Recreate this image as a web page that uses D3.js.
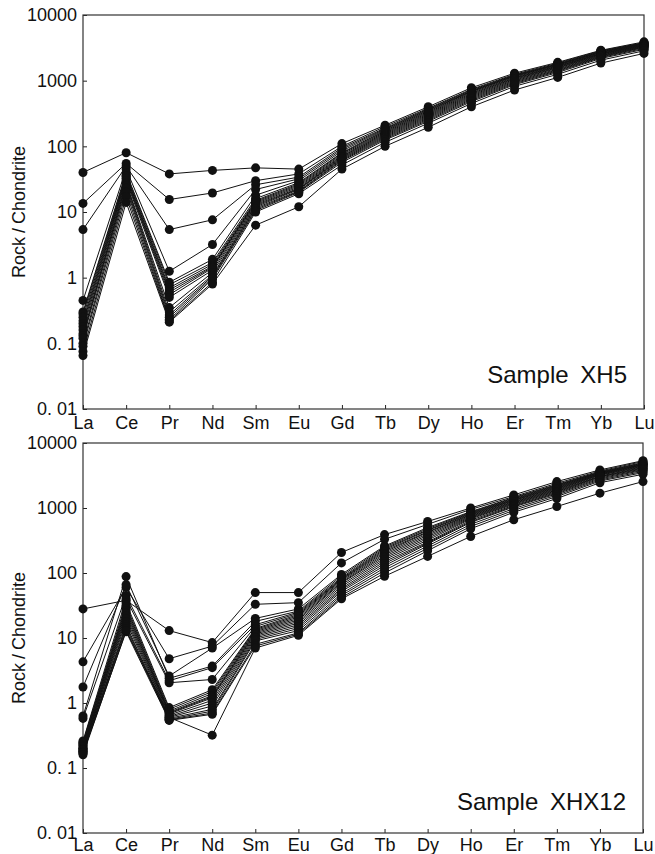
<!DOCTYPE html>
<html>
<head>
<meta charset="utf-8">
<script src="https://cdn.jsdelivr.net/npm/d3@7/dist/d3.min.js"></script>
<style>
  html, body { margin: 0; padding: 0; background: #fff; }
  svg { display: block; }
  text { font-family: "Liberation Sans", Arial, Helvetica, sans-serif; fill: #111; }
</style>
</head>
<body>
<svg id="chart" width="655" height="854"></svg>
<script>
// Rare earth elements on the x axis
const elements = ["La","Ce","Pr","Nd","Sm","Eu","Gd","Tb","Dy","Ho","Er","Tm","Yb","Lu"];

// Log-axis ticks and their printed labels
const tickValues = [0.01, 0.1, 1, 10, 100, 1000, 10000];
const tickLabels = ["0. 01", "0. 1", "1", "10", "100", "1000", "10000"];

// Chondrite-normalised REE patterns, sample XH5 (one row per analysis spot)
const xh5 = [
  [40,    80, 38,   43,   47,   45,  110, 210, 400, 780, 1300, 1900, 2900, 3900],
  [13.5,  55, 15.5, 19.5, 30,   38,  100, 200, 380, 740, 1250, 1850, 2850, 3800],
  [5.4,   50, 5.4,  7.6,  26,   34,   95, 190, 370, 720, 1220, 1800, 2800, 3750],
  [0.45,  45, 1.25, 3.2,  22,   32,   90, 185, 360, 700, 1200, 1780, 2750, 3700],
  [0.30,  40, 0.85, 1.9,  18,   30,   85, 180, 350, 690, 1180, 1750, 2700, 3650],
  [0.28,  38, 0.78, 1.7,  16,   28,   80, 175, 340, 680, 1160, 1720, 2680, 3600],
  [0.25,  36, 0.70, 1.6,  15,   27,   78, 170, 330, 660, 1130, 1680, 2620, 3550],
  [0.22,  35, 0.65, 1.5,  14.5, 26,   75, 165, 320, 640, 1100, 1650, 2580, 3500],
  [0.20,  33, 0.60, 1.45, 14,   25,   72, 160, 310, 620, 1080, 1620, 2550, 3450],
  [0.18,  32, 0.55, 1.4,  13.5, 24,   70, 155, 300, 600, 1050, 1580, 2500, 3400],
  [0.16,  30, 0.50, 1.3,  13,   23,   68, 150, 290, 580, 1020, 1550, 2450, 3350],
  [0.14,  28, 0.35, 1.2,  12.5, 22.5, 66, 145, 280, 560,  990, 1500, 2400, 3300],
  [0.13,  27, 0.30, 1.1,  12,   22,   64, 140, 270, 540,  960, 1460, 2350, 3250],
  [0.12,  25, 0.27, 1.05, 11.5, 21,   62, 135, 260, 520,  930, 1420, 2300, 3200],
  [0.10,  23, 0.25, 1.0,  11,   20.5, 60, 130, 250, 500,  900, 1380, 2250, 3100],
  [0.09,  20, 0.23, 0.95, 10.5, 20,   57, 125, 240, 480,  870, 1330, 2180, 3000],
  [0.075, 17, 0.22, 0.85, 10,   19,   52, 115, 225, 450,  820, 1250, 2050, 2850],
  [0.065, 14, 0.21, 0.80, 6.3,  12,   45, 100, 195, 400,  720, 1120, 1850, 2600]
];

// Chondrite-normalised REE patterns, sample XHX12
const xhx12 = [
  [28,   38, 13,   8.5,  50,  50,  207, 390, 620, 1000, 1590, 2550, 3850, 5350],
  [4.3,  60, 4.8,  7.5,  33,  35,  143, 330, 560,  950, 1500, 2400, 3700, 5200],
  [1.76, 66, 2.6,  7.0,  20,  28,   95, 260, 500,  880, 1450, 2300, 3600, 5000],
  [0.63, 88, 2.4,  3.7,  18,  26,   90, 250, 480,  860, 1420, 2250, 3550, 4900],
  [0.58, 45, 2.2,  3.5,  16,  25,   85, 240, 460,  840, 1380, 2200, 3500, 4800],
  [0.26, 40, 2.05, 2.3,  15,  24,   82, 230, 450,  820, 1350, 2150, 3450, 4700],
  [0.25, 35, 0.85, 1.6,  14,  23,   80, 220, 430,  800, 1320, 2100, 3400, 4650],
  [0.24, 32, 0.80, 1.5,  13.5,22,   78, 210, 420,  780, 1300, 2050, 3350, 4600],
  [0.23, 30, 0.75, 1.4,  13,  21,   75, 200, 400,  760, 1260, 2000, 3300, 4500],
  [0.22, 28, 0.72, 1.3,  12.5,20,   72, 190, 380,  740, 1230, 1950, 3250, 4400],
  [0.21, 26, 0.70, 1.25, 12,  19,   70, 180, 360,  720, 1200, 1900, 3200, 4300],
  [0.20, 24, 0.68, 1.2,  11.5,18,   66, 170, 340,  700, 1170, 1850, 3100, 4200],
  [0.20, 22, 0.65, 1.1,  11,  17,   62, 160, 320,  680, 1140, 1800, 3050, 4100],
  [0.19, 20, 0.62, 1.0,  10.5,16,   58, 150, 300,  650, 1100, 1750, 3000, 4000],
  [0.19, 18, 0.60, 0.9,  10,  15,   55, 140, 290,  620, 1070, 1700, 2900, 3900],
  [0.18, 16, 0.58, 0.8,  9.5, 14,   52, 130, 280,  600, 1040, 1650, 2800, 3800],
  [0.18, 15, 0.56, 0.75, 9,   13,   48, 120, 260,  560,  980, 1580, 2700, 3650],
  [0.17, 14, 0.55, 0.70, 8,   12,   45, 110, 240,  520,  920, 1500, 2600, 3500],
  [0.17, 12.5, 0.54, 0.67, 7.5, 11.5, 42, 100, 220, 480,  860, 1400, 2450, 3300],
  [0.16, 13, 0.60, 0.32, 7,   11,   40,  89, 180,  365,  660, 1055, 1690, 2550]
];

const panels = [
  { data: xh5,   label: "Sample XH5",   left: 83, right: 644, top: 15,  bottom: 409, xPad: 7 },
  { data: xhx12, label: "Sample XHX12", left: 83, right: 643, top: 443, bottom: 833, xPad: 5 }
];

const svg = d3.select("#chart");
const FONT = "'Liberation Sans', Arial, Helvetica, sans-serif";

panels.forEach(p => {
  const x = d3.scalePoint().domain(elements).range([p.left, p.right]).padding(0);
  const y = d3.scaleLog().domain([0.01, 10000]).range([p.bottom, p.top]);
  const g = svg.append("g");

  // y axis: inward ticks, custom labels
  const yAxis = d3.axisLeft(y)
    .tickValues(tickValues)
    .tickFormat((d, i) => tickLabels[i])
    .tickSizeInner(-4).tickSizeOuter(0).tickPadding(6);
  const ya = g.append("g").attr("transform", `translate(${p.left},0)`).call(yAxis);
  ya.select(".domain").remove();
  ya.selectAll("line").attr("stroke", "#222");
  ya.selectAll("text").attr("font-size", 18).attr("fill", "#111").attr("font-family", FONT);

  // x axis: element symbols
  const xAxis = d3.axisBottom(x).tickSizeInner(-4).tickSizeOuter(0).tickPadding(p.xPad);
  const xa = g.append("g").attr("transform", `translate(0,${p.bottom})`).call(xAxis);
  xa.select(".domain").remove();
  xa.selectAll("line").attr("stroke", "#222");
  xa.selectAll("text").attr("font-size", 18).attr("fill", "#111").attr("font-family", FONT);

  // frame
  g.append("rect")
    .attr("x", p.left).attr("y", p.top)
    .attr("width", p.right - p.left).attr("height", p.bottom - p.top)
    .attr("fill", "none").attr("stroke", "#333").attr("stroke-width", 1.2);

  // y axis title
  const title = g.append("text")
    .attr("transform", `translate(25,${(p.top + p.bottom) / 2}) rotate(-90)`)
    .attr("text-anchor", "middle")
    .attr("font-size", 18);
  title.append("tspan").text("Rock");
  title.append("tspan").attr("dx", 4).text("/");
  title.append("tspan").attr("dx", 4).text("Chondrite");

  // patterns
  const line = d3.line().x((d, i) => x(elements[i])).y(d => y(d));
  g.append("g").selectAll("path").data(p.data).join("path")
    .attr("d", line).attr("fill", "none").attr("stroke", "#111").attr("stroke-width", 1);

  const pts = p.data.flatMap(row => row.map((v, i) => ({ el: elements[i], v })));
  g.append("g").selectAll("circle").data(pts).join("circle")
    .attr("cx", d => x(d.el)).attr("cy", d => y(d.v)).attr("r", 4.5).attr("fill", "#111");

  // sample label
  g.append("text")
    .attr("x", p.right - 17).attr("y", p.bottom - (p.label === "Sample XH5" ? 26 : 23))
    .attr("text-anchor", "end")
    .attr("font-size", 24)
    .attr("word-spacing", 5)
    .text(p.label);
});
</script>
</body>
</html>
